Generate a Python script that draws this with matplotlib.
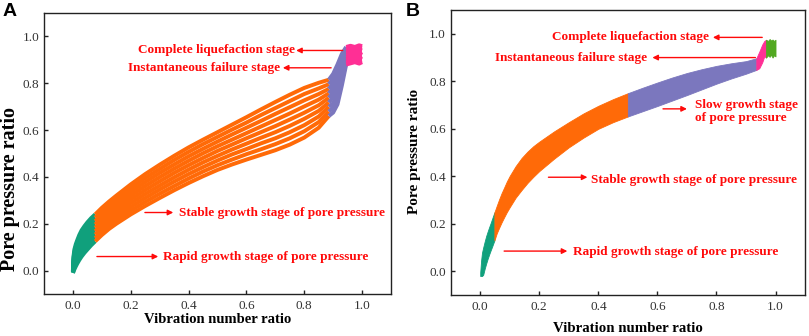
import matplotlib
matplotlib.use("Agg")
import matplotlib.pyplot as plt

# ---------------- data ----------------
# Panel A: x knots shared by every curve
xa = [0.0, 0.002, 0.005, 0.01, 0.015, 0.022, 0.03, 0.04, 0.05, 0.063, 0.077,
      0.1, 0.125, 0.15, 0.2, 0.25, 0.3, 0.35, 0.4, 0.45, 0.5, 0.55, 0.6, 0.65, 0.7,
      0.75, 0.8, 0.85, 0.885, 0.9, 0.915, 0.93, 0.945, 0.96, 0.975, 0.99, 1.0]
curve_a0 = [0.0, 0.06, 0.09, 0.113, 0.13, 0.152, 0.172, 0.19, 0.206, 0.224, 0.24,
            0.268, 0.295, 0.32, 0.368, 0.412, 0.452, 0.49, 0.526, 0.559, 0.591, 0.623, 0.655, 0.688, 0.72,
            0.751, 0.78, 0.802, 0.815, 0.84, 0.88, 0.925, 0.955, 0.96, 0.955, 0.962, 0.958]
curve_a1 = [-0.001, 0.052, 0.079, 0.101, 0.118, 0.139, 0.158, 0.176, 0.192, 0.21, 0.226,
            0.254, 0.28, 0.305, 0.352, 0.395, 0.434, 0.472, 0.507, 0.54, 0.571, 0.602, 0.632, 0.664, 0.694,
            0.724, 0.754, 0.778, 0.796, 0.82, 0.86, 0.909, 0.946, 0.951, 0.944, 0.952, 0.95]
curve_a2 = [-0.003, 0.044, 0.069, 0.089, 0.105, 0.125, 0.144, 0.161, 0.177, 0.195, 0.211,
            0.239, 0.266, 0.29, 0.336, 0.378, 0.417, 0.453, 0.488, 0.52, 0.551, 0.581, 0.61, 0.639, 0.669,
            0.698, 0.727, 0.754, 0.776, 0.8, 0.84, 0.894, 0.936, 0.941, 0.935, 0.944, 0.94]
curve_a3 = [-0.004, 0.036, 0.058, 0.077, 0.093, 0.112, 0.13, 0.147, 0.163, 0.181, 0.197,
            0.225, 0.251, 0.275, 0.32, 0.361, 0.399, 0.435, 0.469, 0.501, 0.531, 0.559, 0.587, 0.615, 0.643,
            0.671, 0.701, 0.73, 0.757, 0.78, 0.82, 0.878, 0.927, 0.932, 0.925, 0.93, 0.934]
curve_a4 = [-0.005, 0.028, 0.048, 0.066, 0.08, 0.099, 0.116, 0.133, 0.148, 0.166, 0.183,
            0.21, 0.237, 0.26, 0.304, 0.344, 0.381, 0.417, 0.45, 0.481, 0.511, 0.538, 0.565, 0.591, 0.617,
            0.645, 0.674, 0.706, 0.738, 0.76, 0.80, 0.863, 0.918, 0.922, 0.917, 0.925, 0.92]
curve_a5 = [-0.006, 0.019, 0.037, 0.054, 0.068, 0.085, 0.102, 0.119, 0.134, 0.152, 0.168,
            0.196, 0.222, 0.245, 0.288, 0.327, 0.363, 0.398, 0.431, 0.462, 0.49, 0.517, 0.542, 0.567, 0.591,
            0.618, 0.648, 0.682, 0.718, 0.74, 0.775, 0.845, 0.908, 0.913, 0.91, 0.912, 0.915]
curve_a6 = [-0.008, 0.011, 0.026, 0.042, 0.055, 0.072, 0.088, 0.105, 0.119, 0.137, 0.154,
            0.181, 0.207, 0.23, 0.272, 0.31, 0.346, 0.38, 0.412, 0.442, 0.47, 0.496, 0.519, 0.543, 0.565,
            0.591, 0.621, 0.658, 0.699, 0.715, 0.75, 0.828, 0.899, 0.904, 0.9, 0.906, 0.902]
curve_a7 = [-0.009, 0.003, 0.016, 0.03, 0.043, 0.058, 0.074, 0.09, 0.105, 0.123, 0.139,
            0.167, 0.193, 0.215, 0.256, 0.293, 0.328, 0.361, 0.393, 0.423, 0.45, 0.474, 0.497, 0.518, 0.54,
            0.565, 0.595, 0.634, 0.679, 0.695, 0.73, 0.81, 0.889, 0.894, 0.893, 0.895, 0.897]
curve_a8 = [-0.01, -0.005, 0.005, 0.018, 0.03, 0.045, 0.06, 0.076, 0.09, 0.108, 0.125,
            0.152, 0.178, 0.2, 0.24, 0.276, 0.31, 0.343, 0.374, 0.403, 0.43, 0.453, 0.474, 0.494, 0.514,
            0.538, 0.568, 0.61, 0.66, 0.675, 0.71, 0.79, 0.88, 0.885, 0.89, 0.884, 0.89]
curves_a = [curve_a0, curve_a1, curve_a2, curve_a3, curve_a4, curve_a5, curve_a6, curve_a7, curve_a8]
# stage boundaries (knot index ranges) for panel A
stages_a = [(0, 10), (10, 28), (28, 32), (32, 36)]

# Panel B: band envelope
xb = [0.0, 0.003, 0.006, 0.01, 0.015, 0.02, 0.025, 0.03, 0.035, 0.04,
      0.048, 0.056, 0.064, 0.072, 0.08, 0.09, 0.1, 0.12, 0.14, 0.16, 0.18,
      0.2, 0.25, 0.3, 0.35, 0.4, 0.45, 0.5, 0.55, 0.6, 0.65, 0.7, 0.75, 0.8,
      0.85, 0.9, 0.935, 0.945, 0.955, 0.962, 0.968, 0.975, 0.98, 0.985, 0.99, 0.995, 1.0]
upper_b = [-0.005, 0.045, 0.078, 0.1, 0.125, 0.148, 0.167, 0.185, 0.202, 0.22,
           0.248, 0.276, 0.303, 0.328, 0.35, 0.378, 0.402, 0.443, 0.477, 0.504, 0.527,
           0.546, 0.589, 0.628, 0.665, 0.697, 0.725, 0.75, 0.773, 0.795, 0.816, 0.835, 0.851, 0.865,
           0.876, 0.885, 0.897, 0.925, 0.955, 0.97, 0.975, 0.97, 0.978, 0.972, 0.976, 0.97, 0.975]
lower_b = [-0.02, -0.02, -0.02, -0.015, 0.01, 0.032, 0.052, 0.07, 0.087, 0.103,
           0.13, 0.16, 0.183, 0.205, 0.225, 0.249, 0.27, 0.31, 0.342, 0.372, 0.398,
           0.422, 0.474, 0.522, 0.563, 0.6, 0.628, 0.652, 0.674, 0.696, 0.719, 0.742, 0.766, 0.79,
           0.812, 0.832, 0.848, 0.855, 0.88, 0.905, 0.90, 0.91, 0.903, 0.912, 0.9, 0.91, 0.905]
stages_b = [(0, 10), (10, 27), (27, 36), (36, 40), (40, 46)]

ticks = [0.0, 0.2, 0.4, 0.6, 0.8, 1.0]
tick_labels = ["0.0", "0.2", "0.4", "0.6", "0.8", "1.0"]

# ---------------- style ----------------
GREEN = "#10A07C"
ORANGE = "#FF6A08"
PURPLE = "#7B77BE"
PINK = "#FF2F95"
LIME = "#52A821"
RED = "#FF0A0A"
colors_a = [GREEN, ORANGE, PURPLE, PINK]
colors_b = [GREEN, ORANGE, PURPLE, PINK, LIME]
SERIF = ["Liberation Serif", "DejaVu Serif"]

fig = plt.figure(figsize=(8.09, 3.36), dpi=100)
axA = fig.add_axes([0.0544, 0.125, 0.4289, 0.8363])
axB = fig.add_axes([0.5571, 0.122, 0.438, 0.848])


def style_axes(ax):
    ax.set_xlim(-0.1, 1.1)
    ax.set_ylim(-0.1, 1.1)
    ax.set_xticks(ticks)
    ax.set_yticks(ticks)
    ax.set_xticklabels(tick_labels, family=SERIF, fontsize=9.5, color="#333333")
    ax.set_yticklabels(tick_labels, family=SERIF, fontsize=9.5, color="#333333")
    ax.tick_params(axis="both", direction="in", length=3, width=1, color="#222222")
    ax.tick_params(axis="x", pad=4.5)
    ax.tick_params(axis="y", pad=3.5)
    ax.tick_params(top=False, right=False)
    for s in ax.spines.values():
        s.set_linewidth(1.0)
        s.set_color("#222222")


# ---- panel A ----
for cv in curves_a:
    for (i0, i1), c in zip(stages_a, colors_a):
        axA.plot(xa[i0:i1 + 1], cv[i0:i1 + 1], color=c, lw=2.85,
                 solid_capstyle="butt", solid_joinstyle="round")
style_axes(axA)
axA.set_xlabel("Vibration number ratio", family=SERIF, fontweight="bold", fontsize=10.5)
axA.xaxis.set_label_coords(0.5, -0.092)
axA.xaxis.label.set_va("center")
axA.set_ylabel("Pore pressure ratio", family=SERIF, fontweight="bold", fontsize=14.5)
axA.yaxis.set_label_coords(-0.097, 0.375)
axA.yaxis.label.set_va("center")

arrow_kw = dict(arrowstyle="-|>", color=RED, lw=1.0, mutation_scale=8,
                shrinkA=0, shrinkB=0)
txt_kw = dict(family=SERIF, fontweight="bold", fontsize=9.5, color=RED, va="center")

axA.annotate("", xy=(0.772, 0.94), xytext=(0.933, 0.94), arrowprops=arrow_kw)
axA.text(0.225, 0.94, "Complete liquefaction stage", ha="left", **txt_kw)
axA.annotate("", xy=(0.726, 0.866), xytext=(0.893, 0.866), arrowprops=arrow_kw)
axA.text(0.19, 0.866, "Instantaneous failure stage", ha="left", **txt_kw)
axA.annotate("", xy=(0.347, 0.248), xytext=(0.249, 0.248), arrowprops=arrow_kw)
axA.text(0.367, 0.248, "Stable growth stage of pore pressure", ha="left", **txt_kw)
axA.annotate("", xy=(0.295, 0.06), xytext=(0.083, 0.06), arrowprops=arrow_kw)
axA.text(0.312, 0.06, "Rapid growth stage of pore pressure", ha="left", **txt_kw)

# ---- panel B ----
for (i0, i1), c in zip(stages_b, colors_b):
    axB.fill_between(xb[i0:i1 + 1], lower_b[i0:i1 + 1], upper_b[i0:i1 + 1],
                     color=c, lw=0.6, edgecolor=c)
style_axes(axB)
axB.set_xlabel("Vibration number ratio", family=SERIF, fontweight="bold", fontsize=10.7)
axB.xaxis.set_label_coords(0.501, -0.117)
axB.xaxis.label.set_va("center")
axB.set_ylabel("Pore pressure ratio", family=SERIF, fontweight="bold", fontsize=11)
axB.yaxis.set_label_coords(-0.1008, 0.503)
axB.yaxis.label.set_va("center")

axB.annotate("", xy=(0.788, 0.985), xytext=(0.955, 0.985), arrowprops=arrow_kw)
axB.text(0.242, 0.985, "Complete liquefaction stage", ha="left", **txt_kw)
axB.annotate("", xy=(0.583, 0.9), xytext=(0.932, 0.9), arrowprops=arrow_kw)
axB.text(0.051, 0.897, "Instantaneous failure stage", ha="left", **txt_kw)
axB.annotate("", xy=(0.7, 0.684), xytext=(0.619, 0.684), arrowprops=arrow_kw)
axB.text(0.726, 0.672, "Slow growth stage\nof pore pressure", ha="left",
         linespacing=1.05, **txt_kw)
axB.annotate("", xy=(0.363, 0.396), xytext=(0.231, 0.396), arrowprops=arrow_kw)
axB.text(0.374, 0.386, "Stable growth stage of pore pressure", ha="left", **txt_kw)
axB.annotate("", xy=(0.295, 0.085), xytext=(0.081, 0.085), arrowprops=arrow_kw)
axB.text(0.313, 0.083, "Rapid growth stage of pore pressure", ha="left", **txt_kw)

# panel letters
fig.text(2.5 / 809, 1 - 2.5 / 336, "A", family=["Liberation Sans", "DejaVu Sans"],
         fontweight="bold", fontsize=14, ha="left", va="top")
fig.text(406 / 809, 1 - 3 / 336, "B", family=["Liberation Sans", "DejaVu Sans"],
         fontweight="bold", fontsize=14, ha="left", va="top")

fig.savefig("out.png", dpi=100)
